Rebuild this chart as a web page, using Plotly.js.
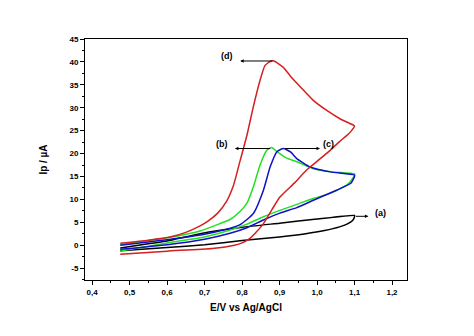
<!DOCTYPE html>
<html>
<head>
<meta charset="utf-8">
<script src="https://cdn.plot.ly/plotly-3.0.1.min.js"></script>
<style>html,body{margin:0;padding:0;background:#fff;}#chart{width:474px;height:336px;}</style>
</head>
<body>
<div id="chart"></div>
<script>
// (a) black
const aFwdX = [0.475, 0.55, 0.6, 0.688, 0.8, 0.9, 1.0, 1.1];
const aFwdY = [-0.6, 0.3, 0.9, 2.5, 3.9, 4.8, 5.7, 6.5];
const aRevX = [1.1, 1.095, 1.08, 1.06, 1.02, 0.97, 0.9, 0.8, 0.7, 0.6, 0.475];
const aRevY = [6.2, 5.4, 4.6, 4.0, 3.2, 2.5, 1.8, 1.0, 0.1, -0.5, -1.2];
// (b) green
const bFwdX = [0.475, 0.6, 0.688, 0.741, 0.768, 0.795, 0.813, 0.83, 0.848, 0.866, 0.879, 0.895, 0.919, 0.946, 0.99, 1.04, 1.1];
const bFwdY = [0.1, 1.6, 3.1, 4.7, 5.6, 7.4, 9.2, 12.7, 17.5, 20.7, 21.3, 20.3, 19.0, 18.2, 16.7, 16.0, 15.6];
const bRevX = [1.1, 1.09, 1.079, 1.035, 0.99, 0.946, 0.901, 0.857, 0.813, 0.768, 0.7, 0.6, 0.475];
const bRevY = [15.3, 14.0, 13.1, 11.3, 10.2, 8.9, 7.6, 6.2, 4.6, 3.3, 1.8, 0.5, -1.3];
// (c) blue
const cFwdX = [0.475, 0.55, 0.6, 0.7, 0.75, 0.795, 0.83, 0.857, 0.875, 0.893, 0.91, 0.93, 0.946, 0.981, 1.035, 1.1];
const cFwdY = [0.0, 0.7, 1.2, 2.4, 3.3, 4.5, 6.9, 12.0, 17.1, 20.4, 21.1, 20.3, 18.9, 17.1, 16.0, 15.3];
const cRevX = [1.1, 1.09, 1.052, 0.99, 0.946, 0.901, 0.857, 0.813, 0.768, 0.7, 0.6, 0.475];
const cRevY = [15.0, 13.5, 12.0, 9.8, 8.2, 7.0, 5.5, 3.8, 2.6, 1.3, 0.1, -0.9];
// (d) red
const dFwdX = [0.475, 0.55, 0.608, 0.65, 0.688, 0.71, 0.735, 0.759, 0.777, 0.795, 0.813, 0.83, 0.848, 0.861, 0.875, 0.885, 0.91, 0.928, 0.955, 0.99, 1.026, 1.061, 1.097];
const dFwdY = [0.4, 1.1, 1.8, 2.8, 4.2, 5.3, 7.0, 9.6, 13.0, 18.5, 24.0, 30.2, 36.0, 39.2, 40.1, 40.2, 38.8, 37.0, 34.6, 31.6, 29.4, 27.6, 26.2];
const dRevX = [1.1, 1.092, 1.083, 1.06, 1.035, 1.0, 0.972, 0.94, 0.901, 0.88, 0.857, 0.835, 0.821, 0.8, 0.78, 0.72, 0.6, 0.475];
const dRevY = [26.0, 25.0, 24.2, 22.6, 20.7, 18.3, 16.4, 13.6, 10.5, 7.8, 4.7, 2.6, 1.5, 0.5, 0.0, -0.7, -1.3, -2.0];

const xTickVals = [0.4, 0.5, 0.6, 0.7, 0.8, 0.9, 1.0, 1.1, 1.2];
const xTickText = ["0,4", "0,5", "0,6", "0,7", "0,8", "0,9", "1,0", "1,1", "1,2"];
const yTickVals = [-5, 0, 5, 10, 15, 20, 25, 30, 35, 40, 45];
const yTickText = ["-5", "0", "5", "10", "15", "20", "25", "30", "35", "40", "45"];

// annotation labels
const labelText = ["(a)", "(b)", "(c)", "(d)"];
const labelX = [1.168, 0.746, 1.03, 0.759];
const labelY = [7.1, 22.0, 22.0, 41.3];
const arrowHeadX = [1.137, 0.781, 1.008, 0.795];
const arrowHeadY = [6.3, 21.1, 21.1, 40.2];
const arrowTailX = [1.1, 0.879, 0.91, 0.885];
const arrowTailY = [6.3, 21.1, 21.1, 40.2];

const colors = ["#000000", "#22e022", "#1010c8", "#d42020"];
const loops = [
  [aFwdX.concat(aRevX), aFwdY.concat(aRevY)],
  [bFwdX.concat(bRevX), bFwdY.concat(bRevY)],
  [cFwdX.concat(cRevX), cFwdY.concat(cRevY)],
  [dFwdX.concat(dRevX), dFwdY.concat(dRevY)]
];
const traces = loops.map((l, i) => ({
  x: l[0], y: l[1], type: 'scatter', mode: 'lines',
  line: {color: colors[i], width: 1.5, shape: 'spline', smoothing: 0.5},
  hoverinfo: 'skip'
}));

const fnt = {family: 'Liberation Sans, Arial, sans-serif', size: 8, color: '#000', weight: 'bold'};
const annotations = [];
for (let i = 0; i < labelText.length; i++) {
  annotations.push({
    x: arrowHeadX[i], y: arrowHeadY[i], ax: arrowTailX[i], ay: arrowTailY[i],
    xref: 'x', yref: 'y', axref: 'x', ayref: 'y',
    text: '', showarrow: true, arrowhead: 2, arrowsize: 0.7, arrowwidth: 1, arrowcolor: '#000'
  });
  annotations.push({
    x: labelX[i], y: labelY[i], xref: 'x', yref: 'y', text: labelText[i],
    showarrow: false, font: {family: 'Liberation Sans, Arial, sans-serif', size: 9, color: '#000', weight: 'bold'}
  });
}

const layout = {
  width: 474, height: 336,
  margin: {l: 85, r: 67, t: 39, b: 56},
  paper_bgcolor: '#fff', plot_bgcolor: '#fff',
  showlegend: false,
  font: fnt,
  xaxis: {
    range: [0.381, 1.24], tickmode: 'array', tickvals: xTickVals, ticktext: xTickText,
    ticks: 'outside', ticklen: 4, tickwidth: 1, tickcolor: '#000',
    showline: true, linecolor: '#000', linewidth: 1, mirror: true,
    showgrid: false, zeroline: false, tickfont: fnt,
    minor: {tickmode: 'linear', tick0: 0.35, dtick: 0.05, ticks: 'outside', ticklen: 2, tickwidth: 1, tickcolor: '#000', showgrid: false},
    title: {text: 'E/V vs Ag/AgCl', font: {family: 'Liberation Sans, Arial, sans-serif', size: 10, color: '#000', weight: 'bold'}, standoff: 8}
  },
  yaxis: {
    range: [-7.6, 45], tickmode: 'array', tickvals: yTickVals, ticktext: yTickText,
    ticks: 'outside', ticklen: 4, tickwidth: 1, tickcolor: '#000',
    showline: true, linecolor: '#000', linewidth: 1, mirror: true,
    showgrid: false, zeroline: false, tickfont: fnt,
    minor: {tickmode: 'linear', tick0: -7.5, dtick: 2.5, ticks: 'outside', ticklen: 2, tickwidth: 1, tickcolor: '#000', showgrid: false},
    title: {text: 'Ip / µA', font: {family: 'Liberation Sans, Arial, sans-serif', size: 10, color: '#000', weight: 'bold'}, standoff: 19}
  },
  annotations: annotations
};

Plotly.newPlot('chart', traces, layout, {staticPlot: true, displayModeBar: false});
</script>
</body>
</html>
